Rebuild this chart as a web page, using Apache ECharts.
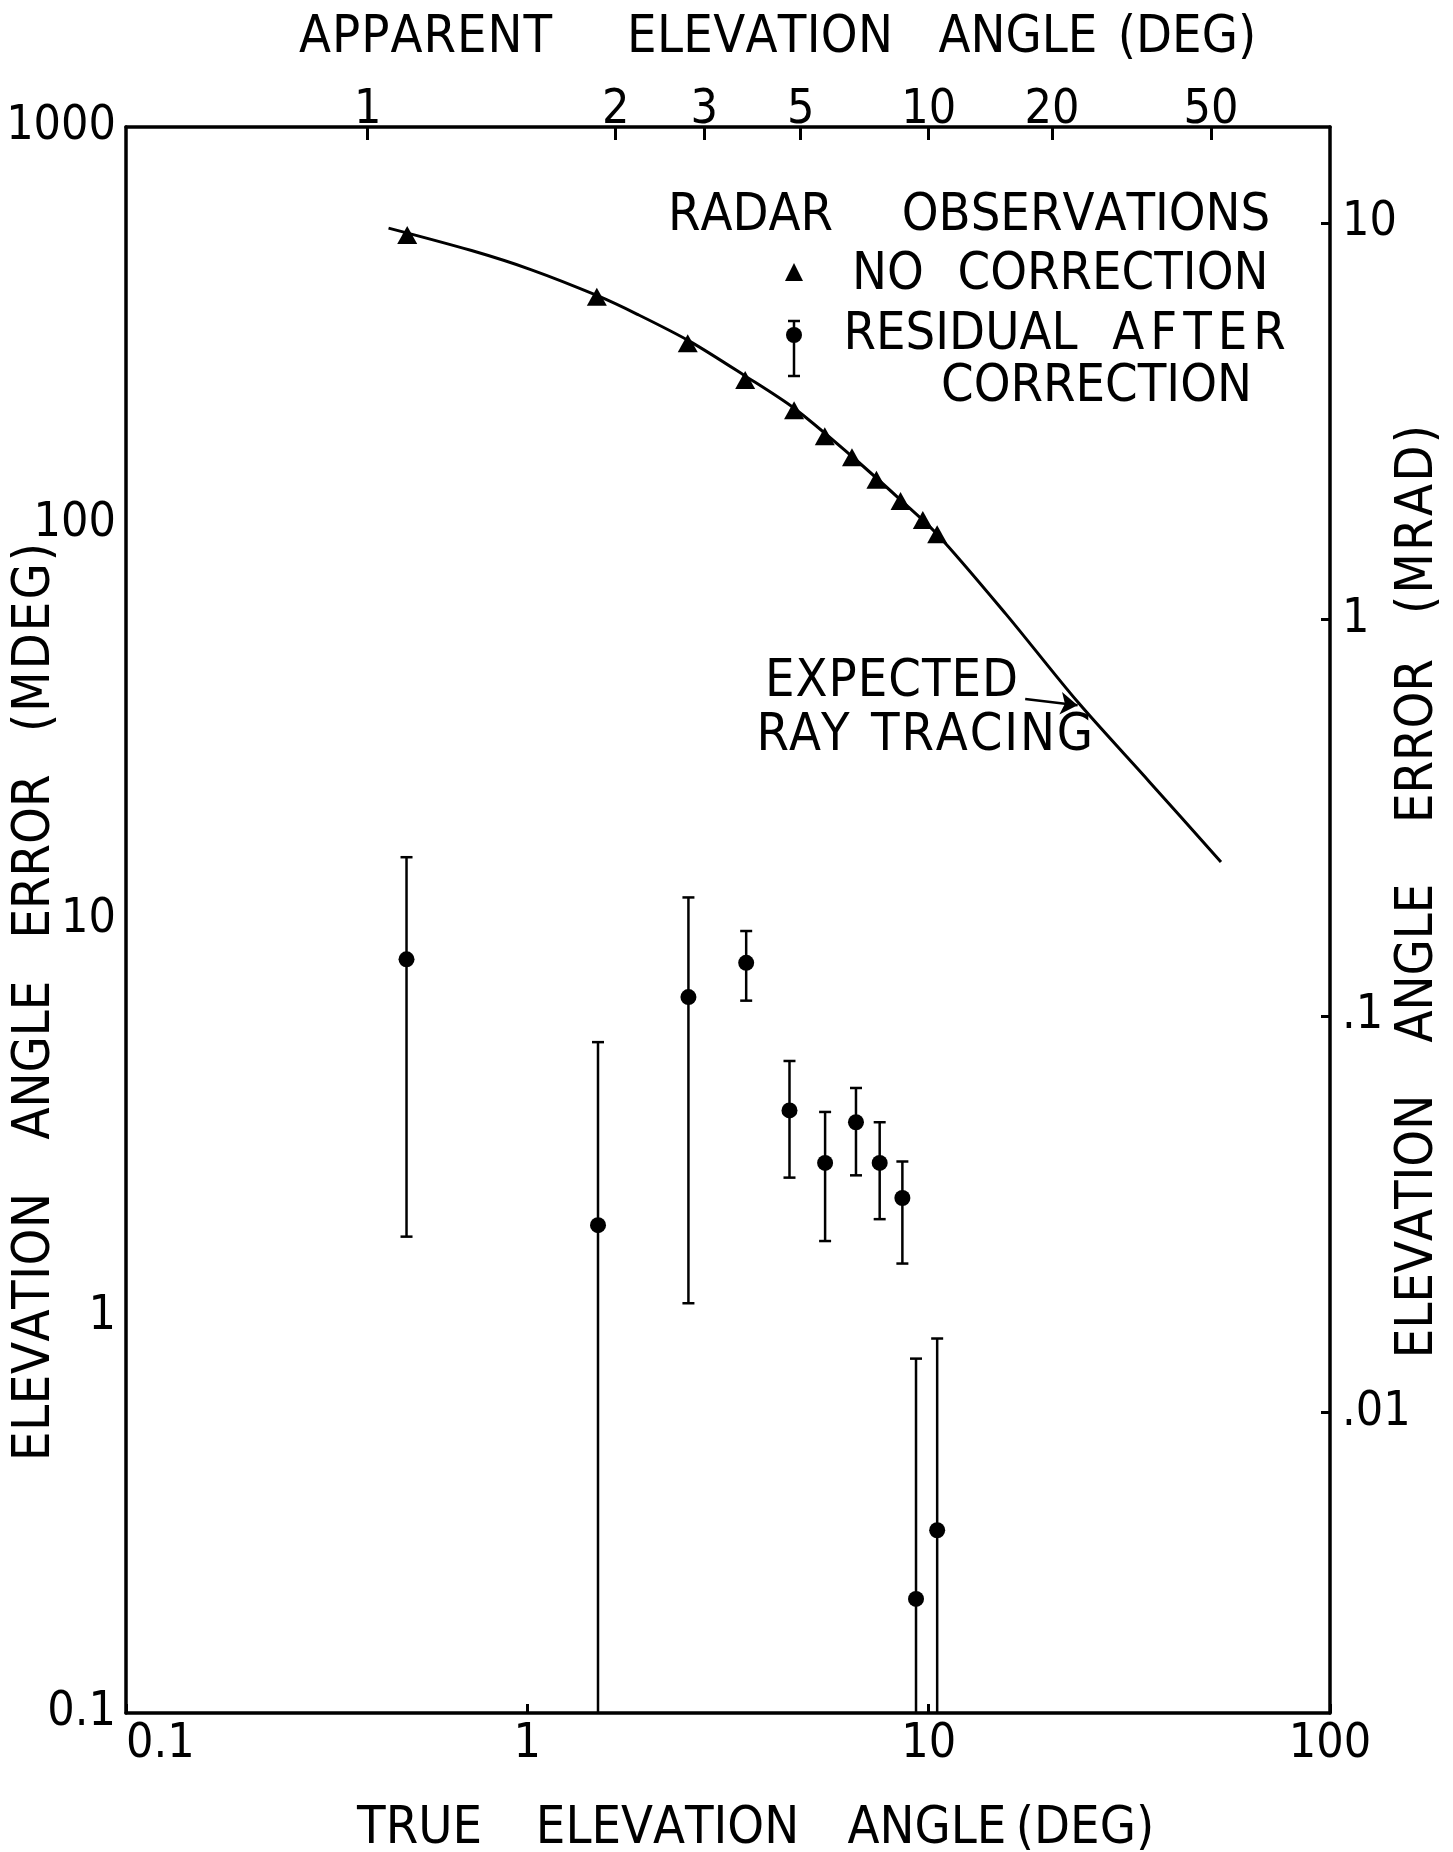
<!DOCTYPE html>
<html>
<head>
<meta charset="utf-8">
<script src="https://cdn.jsdelivr.net/npm/echarts@6/dist/echarts.min.js"></script>
<style>
html,body{margin:0;padding:0;background:#fff;}
#chart{width:1453px;height:1852px;}
</style>
</head>
<body>
<div id="chart"></div>
<script>
// ---------------- DATA ----------------
const MDEG_PER_MRAD = 57.2958;
const X_MIN = 0.1, X_MAX = 100;      // true elevation angle (deg)
const Y_MIN = 0.1, Y_MAX = 1000;     // elevation angle error (mdeg)

const bottomTickValues = [0.1, 1, 10, 100];
const bottomTickLabels = ['0.1', '1', '10', '100'];
const leftTickValues = [0.1, 1, 10, 100, 1000];
const leftTickLabels = ['0.1', '1', '10', '100', '1000'];
const rightTickValues = [0.01, 0.1, 1, 10];          // mrad
const rightTickLabels = ['.01', '.1', '1', '10'];
const topTickLabels = ['1', '2', '3', '5', '10', '20', '50'];        // apparent angle (deg)
const topTickTrueAngle = [0.40, 1.66, 2.76, 4.80, 10.0, 20.3, 50.5]; // where they fall on the true-angle scale

// expected ray tracing curve
const curveTrueAngle = [0.451, 0.726, 1.02, 1.49, 1.88, 2.54, 3.48, 4.63, 6.42, 8.44, 10.5, 15.6, 23.5, 35.5, 53.5];
const curveError     = [556, 488, 437, 376, 337, 288, 236, 195, 148, 115.6, 94, 59, 35.5, 22.3, 14.0];

// radar observations, no correction (triangles)
const triTrueAngle = [0.502, 1.49, 2.51, 3.49, 4.62, 5.51, 6.44, 7.41, 8.51, 9.67, 10.5];
const triError     = [534, 373, 285, 230, 193, 166, 147, 129, 114, 102, 94];

// residual after correction (dots with error bars); null lower = runs off the axis
const resTrueAngle = [0.5, 1.5, 2.52, 3.51, 4.5, 5.52, 6.59, 7.55, 8.6, 9.3, 10.5];
const resError     = [7.96, 1.70, 6.39, 7.8, 3.31, 2.44, 3.09, 2.44, 1.99, 0.194, 0.289];
const resUpper     = [14.4, 4.92, 11.4, 9.38, 4.41, 3.28, 3.77, 3.09, 2.46, 0.783, 0.88];
const resLower     = [1.59, null, 1.08, 6.26, 2.24, 1.55, 2.27, 1.76, 1.36, null, null];

// annotation arrow "EXPECTED RAY TRACING"
const arrowFrom = [17.4, 36.1];
const arrowTo   = [23.5, 34.8];

// ---------------- CHART ----------------
const FONT = "'Liberation Sans Narrow', 'DejaVu Sans Condensed', 'Arial Narrow', 'Liberation Sans', sans-serif";
const BLACK = '#000';
const TEXT_SIZE = 52;

function labelFor(v, vals, labels) {
  for (let i = 0; i < vals.length; i++) {
    if (Math.abs(Math.log10(vals[i]) - Math.log10(v)) < 1e-3) return labels[i];
  }
  return '';
}
function labelForLog(v, logs, labels) {
  for (let i = 0; i < logs.length; i++) {
    if (Math.abs(logs[i] - v) < 1e-3) return labels[i];
  }
  return '';
}

const topTickLogs = topTickTrueAngle.map(v => Math.log10(v));
const rightTickLogs = rightTickValues.map(v => Math.log10(v));

const axisLineStyle = { color: BLACK, width: 3.5 };
const tickStyle = { color: BLACK, width: 3 };
const labelBase = { color: BLACK, fontFamily: FONT, fontSize: 48 };

// lettered words: centred on the original lettering, with modest letter spacing
const measureCtx = document.createElement('canvas').getContext('2d');
function word(text, a, b, c, rot) {
  // horizontal: a,b = left/right x, c = centre y; rotated: a,b = bottom/top y, c = centre x
  const font = TEXT_SIZE + 'px ' + FONT;
  measureCtx.font = font;
  const chars = text.split('');
  const widths = chars.map(ch => measureCtx.measureText(ch).width);
  const natural = widths.reduce((s, w) => s + w, 0);
  const target = Math.abs(b - a);
  const gap = chars.length > 1 ? Math.max(0, Math.min(6, (target - natural) / (chars.length - 1))) : 0;
  const used = natural + gap * (chars.length - 1);
  let cursor = -used / 2;
  const children = chars.map((ch, i) => {
    const w = widths[i];
    const el = {
      type: 'text', silent: true,
      x: cursor + w / 2, y: 0,
      style: {
        text: ch, fill: BLACK, font: font,
        align: 'center', verticalAlign: 'middle',
        textAlign: 'center', textVerticalAlign: 'middle'
      }
    };
    cursor += w + gap;
    return el;
  });
  const mid = (a + b) / 2;
  return {
    type: 'group', silent: true,
    x: rot ? c : mid, y: rot ? mid : c,
    rotation: rot ? Math.PI / 2 : 0,
    children: children
  };
}

const graphics = [
  // top title
  word('APPARENT', 299, 552, 38), word('ELEVATION', 627, 893, 38), word('ANGLE', 947, 1089, 38), word('(DEG)', 1119, 1255, 38),
  // bottom title
  word('TRUE', 363, 476, 1829), word('ELEVATION', 540, 795, 1829), word('ANGLE', 858, 996, 1829), word('(DEG)', 1016, 1154, 1829),
  // left title (rotated)
  word('ELEVATION', 1461, 1193, 35, true), word('ANGLE', 1128, 992, 35, true),
  word('ERROR', 933, 780, 35, true), word('(MDEG)', 732, 543, 35, true),
  // right title (rotated)
  word('ELEVATION', 1358, 1095, 1418, true), word('ANGLE', 1028, 898, 1418, true),
  word('ERROR', 815, 667, 1418, true), word('(MRAD)', 614, 425, 1418, true),
  // legend
  word('RADAR', 689, 812, 216), word('OBSERVATIONS', 912, 1260, 216),
  word('NO', 859, 917, 275), word('CORRECTION', 966, 1260, 275),
  word('RESIDUAL', 859, 1062, 335), word('AFTER', 1107, 1291, 335),
  word('CORRECTION', 947, 1246, 387),
  // annotation
  word('EXPECTED', 765, 1018, 682),
  word('RAY', 765, 841, 736), word('TRACING', 871, 1093, 736),
  // legend symbols
  { type: 'polygon', silent: true, shape: { points: [[794, 263], [785, 281], [803, 281]] }, style: { fill: BLACK } },
  { type: 'line', silent: true, shape: { x1: 794, y1: 321, x2: 794, y2: 376 }, style: { stroke: BLACK, lineWidth: 2.5 } },
  { type: 'line', silent: true, shape: { x1: 788, y1: 321, x2: 800, y2: 321 }, style: { stroke: BLACK, lineWidth: 2.5 } },
  { type: 'line', silent: true, shape: { x1: 788, y1: 376, x2: 800, y2: 376 }, style: { stroke: BLACK, lineWidth: 2.5 } },
  { type: 'circle', silent: true, shape: { cx: 794, cy: 335, r: 8 }, style: { fill: BLACK } }
];

const option = {
  animation: false,
  backgroundColor: '#fff',
  grid: { left: 126, top: 127, width: 1204, height: 1586, containLabel: false, outerBoundsMode: 'none', show: false },
  xAxis: [
    {
      type: 'log', logBase: 10, min: X_MIN, max: X_MAX, position: 'bottom', gridIndex: 0,
      axisLine: { show: true, onZero: false, lineStyle: axisLineStyle },
      axisTick: { show: true, inside: true, length: 9, lineStyle: tickStyle },
      minorTick: { show: false }, splitLine: { show: false }, minorSplitLine: { show: false },
      axisLabel: Object.assign({}, labelBase, {
        margin: 8, alignMinLabel: 'left',
        formatter: v => labelFor(v, bottomTickValues, bottomTickLabels)
      })
    },
    {
      type: 'value', min: Math.log10(X_MIN), max: Math.log10(X_MAX), position: 'top', gridIndex: 0,
      axisLine: { show: true, onZero: false, lineStyle: axisLineStyle },
      axisTick: { show: true, inside: true, length: 13, lineStyle: tickStyle, customValues: topTickLogs },
      splitLine: { show: false },
      axisLabel: Object.assign({}, labelBase, {
        margin: -8, customValues: topTickLogs,
        formatter: v => labelForLog(v, topTickLogs, topTickLabels)
      })
    }
  ],
  yAxis: [
    {
      type: 'log', logBase: 10, min: Y_MIN, max: Y_MAX, position: 'left', gridIndex: 0,
      axisLine: { show: true, onZero: false, lineStyle: axisLineStyle },
      axisTick: { show: false },
      minorTick: { show: false }, splitLine: { show: false }, minorSplitLine: { show: false },
      axisLabel: Object.assign({}, labelBase, {
        margin: 10, padding: [28, 0, 0, 0],
        formatter: v => labelFor(v, leftTickValues, leftTickLabels)
      })
    },
    {
      type: 'value', min: Math.log10(Y_MIN / MDEG_PER_MRAD), max: Math.log10(Y_MAX / MDEG_PER_MRAD),
      position: 'right', gridIndex: 0,
      axisLine: { show: true, onZero: false, lineStyle: axisLineStyle },
      axisTick: { show: true, inside: true, length: 9, lineStyle: tickStyle, customValues: rightTickLogs },
      splitLine: { show: false },
      axisLabel: Object.assign({}, labelBase, {
        margin: 12, padding: [12, 0, 0, 0], customValues: rightTickLogs,
        formatter: v => labelForLog(v, rightTickLogs, rightTickLabels)
      })
    }
  ],
  series: [
    {
      name: 'Expected ray tracing', type: 'line', xAxisIndex: 0, yAxisIndex: 0,
      data: curveTrueAngle.map((x, i) => [x, curveError[i]]),
      showSymbol: false, symbol: 'none', smooth: 0.3,
      lineStyle: { color: BLACK, width: 3 },
      silent: true,
      markLine: {
        silent: true, symbol: ['none', 'arrow'], symbolSize: 17,
        label: { show: false },
        lineStyle: { color: BLACK, width: 2.5, type: 'solid' },
        data: [[{ coord: arrowFrom }, { coord: arrowTo }]]
      }
    },
    {
      name: 'No correction', type: 'scatter', xAxisIndex: 0, yAxisIndex: 0,
      data: triTrueAngle.map((x, i) => [x, triError[i]]),
      symbol: 'triangle', symbolSize: [20, 18],
      itemStyle: { color: BLACK, opacity: 1 }, silent: true
    },
    {
      name: 'Residual after correction', type: 'custom', xAxisIndex: 0, yAxisIndex: 0,
      data: resTrueAngle.map((x, i) => [x, resError[i], resLower[i] == null ? Y_MIN : resLower[i], resUpper[i]]),
      encode: { x: 0, y: [1, 2, 3] },
      silent: true,
      renderItem: function (params, api) {
        const x = api.value(0);
        const lowVal = api.value(2);
        const c = api.coord([x, api.value(1)]);
        const lo = api.coord([x, lowVal]);
        const hi = api.coord([x, api.value(3)]);
        const cap = 6;
        const st = { stroke: BLACK, lineWidth: 2.5 };
        const children = [
          { type: 'line', shape: { x1: c[0], y1: lo[1], x2: c[0], y2: hi[1] }, style: st },
          { type: 'line', shape: { x1: c[0] - cap, y1: hi[1], x2: c[0] + cap, y2: hi[1] }, style: st }
        ];
        if (lowVal > Y_MIN) {
          children.push({ type: 'line', shape: { x1: c[0] - cap, y1: lo[1], x2: c[0] + cap, y2: lo[1] }, style: st });
        }
        children.push({ type: 'circle', shape: { cx: c[0], cy: c[1], r: 8 }, style: { fill: BLACK } });
        return { type: 'group', children: children };
      }
    }
  ],
  graphic: graphics
};

const chart = echarts.init(document.getElementById('chart'), null, { renderer: 'canvas' });
chart.setOption(option);
</script>
</body>
</html>
